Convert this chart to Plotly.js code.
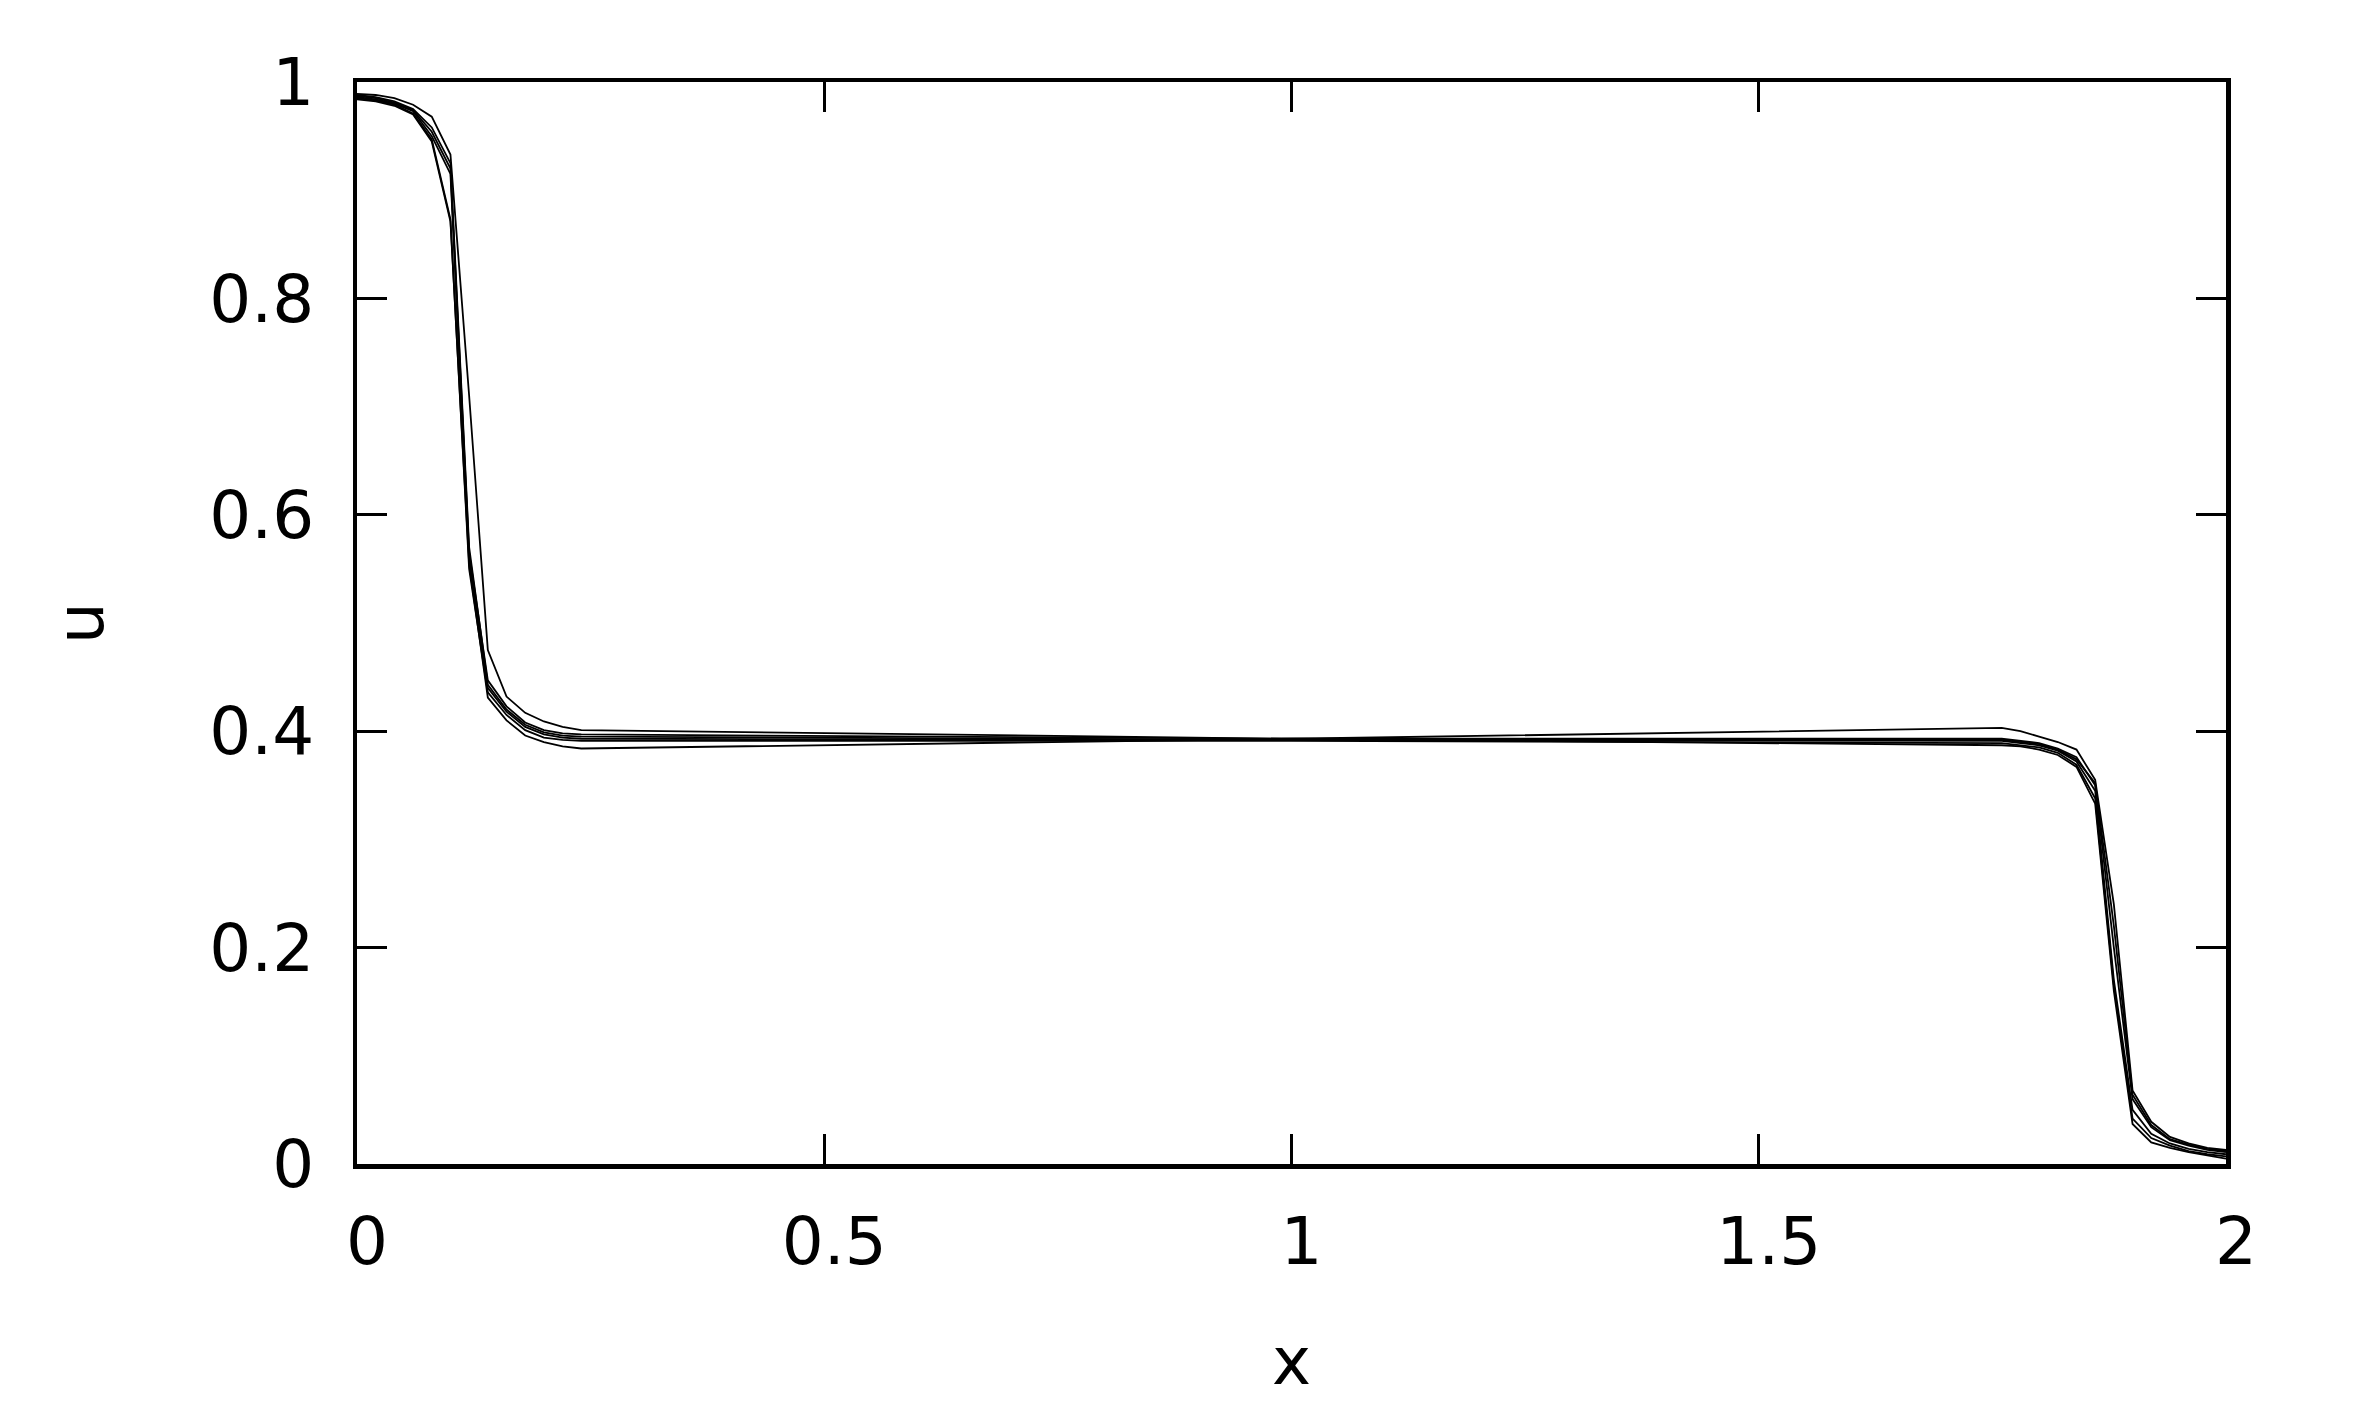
<!DOCTYPE html>
<html>
<head>
<meta charset="utf-8">
<script src="https://cdn.plot.ly/plotly-3.0.1.min.js"></script>
<style>
  html, body { margin: 0; padding: 0; background: white; }
  #chart { width: 2358px; height: 1417px; }
</style>
</head>
<body>
<div id="chart"></div>
<script>
// Shared x positions of the sampled points (plateau segments are straight)
const xs = [0, 0.02, 0.04, 0.06, 0.08, 0.1, 0.12, 0.14, 0.16, 0.18, 0.2, 0.22, 0.24,
            1.0,
            1.76, 1.78, 1.8, 1.82, 1.84, 1.86, 1.88, 1.9, 1.92, 1.94, 1.96, 1.98, 2.0];

// u values, one array per curve
const uA = [0.989, 0.988, 0.985, 0.979, 0.968, 0.933, 0.71, 0.475, 0.432, 0.417, 0.409, 0.404, 0.401,
            0.393,
            0.387, 0.386, 0.383, 0.378, 0.367, 0.333, 0.16, 0.037, 0.020, 0.015, 0.011, 0.008, 0.005];
const uB = [0.984, 0.982, 0.978, 0.970, 0.945, 0.871, 0.555, 0.431, 0.410, 0.396, 0.390, 0.386, 0.384,
            0.393,
            0.403, 0.400, 0.395, 0.390, 0.383, 0.355, 0.24, 0.068, 0.039, 0.025, 0.019, 0.015, 0.013];
const uC = [0.987, 0.985, 0.981, 0.974, 0.954, 0.920, 0.565, 0.447, 0.423, 0.408, 0.401, 0.398, 0.397,
            0.393,
            0.393, 0.391, 0.389, 0.384, 0.376, 0.350, 0.20, 0.060, 0.034, 0.022, 0.017, 0.013, 0.011];
const uD = [0.986, 0.984, 0.980, 0.973, 0.950, 0.915, 0.560, 0.440, 0.418, 0.404, 0.397, 0.394, 0.393,
            0.392,
            0.391, 0.389, 0.387, 0.382, 0.372, 0.345, 0.17, 0.050, 0.028, 0.019, 0.014, 0.011, 0.009];
const uE = [0.985, 0.983, 0.979, 0.971, 0.947, 0.873, 0.550, 0.436, 0.415, 0.401, 0.394, 0.392, 0.391,
            0.391,
            0.389, 0.387, 0.385, 0.380, 0.369, 0.338, 0.165, 0.042, 0.024, 0.017, 0.012, 0.009, 0.007];
const uF = [0.988, 0.986, 0.982, 0.975, 0.958, 0.925, 0.570, 0.443, 0.420, 0.406, 0.399, 0.396, 0.395,
            0.392,
            0.392, 0.390, 0.388, 0.383, 0.374, 0.352, 0.22, 0.064, 0.036, 0.023, 0.018, 0.014, 0.012];

const xTicks = [0, 0.5, 1, 1.5, 2];
const xTickText = ['0', '0.5', '1', '1.5', '2'];
const yTicks = [0, 0.2, 0.4, 0.6, 0.8, 1];
const yTickText = ['0', '0.2', '0.4', '0.6', '0.8', '1'];

const series = [uA, uB, uC, uD, uE, uF];

const data = series.map(function (u) {
    return {
        x: xs,
        y: u,
        type: 'scatter',
        mode: 'lines',
        line: { color: 'black', width: 1.8 },
        hoverinfo: 'skip'
    };
});

const font = { family: 'DejaVu Sans, sans-serif', size: 66, color: 'black' };

const layout = {
    width: 2358,
    height: 1417,
    margin: { l: 357, r: 132, t: 82, b: 253, pad: 0 },
    showlegend: false,
    plot_bgcolor: 'white',
    paper_bgcolor: 'white',
    font: font,
    xaxis: {
        range: [0, 2],
        tickvals: xTicks,
        ticktext: xTickText,
        ticks: 'inside',
        ticklen: 30,
        tickwidth: 3,
        tickcolor: 'black',
        showline: true,
        linecolor: 'black',
        linewidth: 4.5,
        mirror: 'ticks',
        showgrid: false,
        zeroline: false,
        tickfont: font,
        ticklabelshift: 10,
        ticklabelstandoff: 16,
        title: { text: 'x', font: font, standoff: 60 }
    },
    yaxis: {
        range: [0, 1],
        tickvals: yTicks,
        ticktext: yTickText,
        ticks: 'inside',
        ticklen: 30,
        tickwidth: 3,
        tickcolor: 'black',
        showline: true,
        linecolor: 'black',
        linewidth: 4.5,
        mirror: 'ticks',
        showgrid: false,
        zeroline: false,
        tickfont: font,
        ticklabelstandoff: 25,
        title: { text: 'u', font: font, standoff: 85 }
    }
};

Plotly.newPlot('chart', data, layout, { staticPlot: true });
</script>
</body>
</html>
